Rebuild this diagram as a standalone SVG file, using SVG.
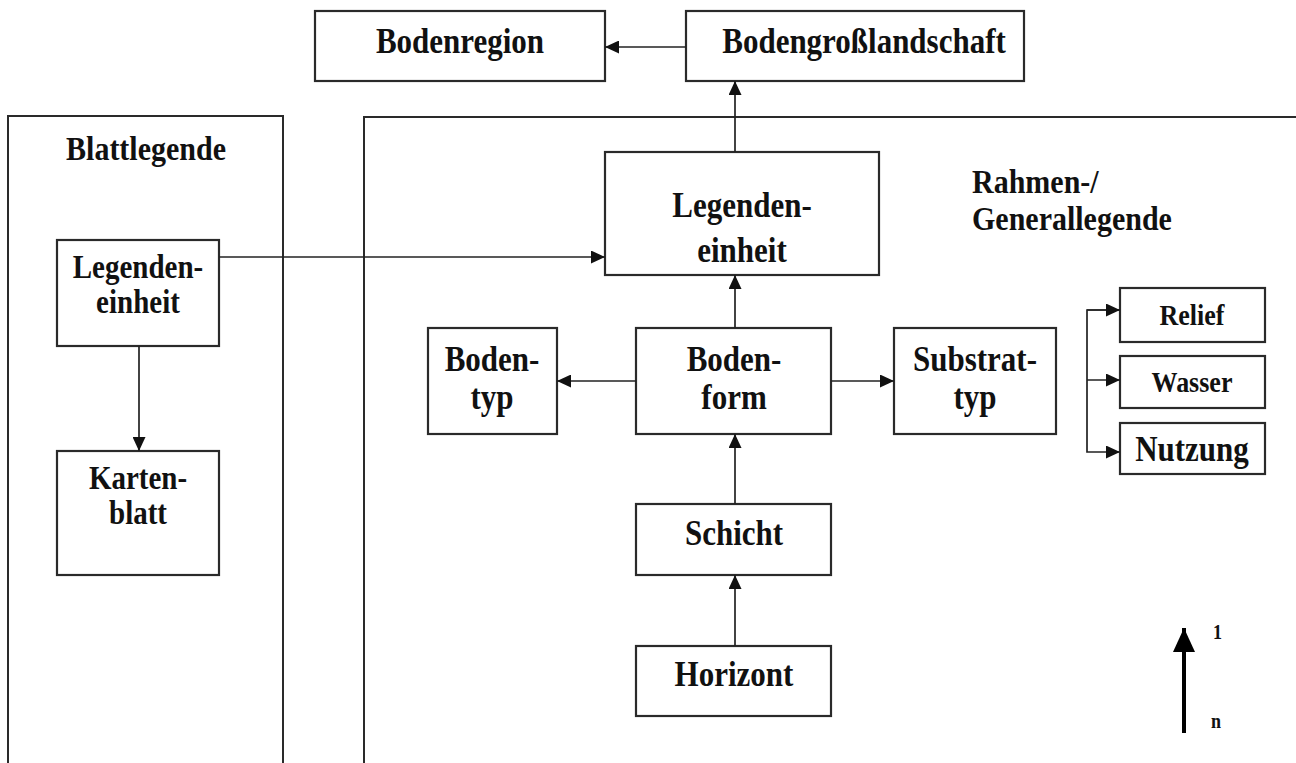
<svg xmlns="http://www.w3.org/2000/svg" width="1296" height="763" viewBox="0 0 1296 763">
<style>
.box{fill:#fff;stroke:#2a2a2a;stroke-width:2.2}
.panel{fill:none;stroke:#2a2a2a;stroke-width:2}
.t{font-family:"Liberation Serif","Times New Roman",serif;font-weight:bold;fill:#111;text-anchor:middle}
.l{text-anchor:start}
.c{fill:none;stroke:#222;stroke-width:1.7}
</style>
<defs>
<marker id="ah" markerUnits="userSpaceOnUse" markerWidth="14" markerHeight="13" refX="14" refY="6.5" orient="auto">
<path d="M0,0 L14,6.5 L0,13 z" fill="#111"/>
</marker>
<marker id="big" markerUnits="userSpaceOnUse" markerWidth="24" markerHeight="22" refX="24" refY="11" orient="auto">
<path d="M0,0 L24,11 L0,22 z" fill="#000"/>
</marker>
</defs>
<rect width="1296" height="763" fill="#fff"/>

<g id="panel-blattlegende">
<path class="panel" d="M8,765 V116 H283 V765"/>
<text class="t" transform="translate(146,160) scale(1,1.13)" font-size="30">Blattlegende</text>
</g>
<g id="panel-rahmen">
<path class="panel" d="M364,765 V117 H1298"/>
<text class="t l" transform="translate(972,193) scale(1,1.13)" font-size="30">Rahmen-/</text>
<text class="t l" transform="translate(972,230) scale(1,1.13)" font-size="30">Generallegende</text>
</g>

<g id="bodenregion">
<rect class="box" x="315" y="11" width="290" height="70"/>
<text class="t" transform="translate(460,53) scale(1,1.13)" font-size="31">Bodenregion</text>
</g>
<g id="bodengrosslandschaft">
<rect class="box" x="686" y="11" width="338" height="70"/>
<text class="t" transform="translate(864,53) scale(1,1.13)" font-size="31">Bodengroßlandschaft</text>
</g>

<g id="legendeneinheit-blatt">
<rect class="box" x="57" y="240" width="162" height="106"/>
<text class="t" transform="translate(138,278) scale(1,1.13)" font-size="29">Legenden-</text>
<text class="t" transform="translate(138,313) scale(1,1.13)" font-size="29">einheit</text>
</g>
<g id="kartenblatt">
<rect class="box" x="57" y="451" width="162" height="124"/>
<text class="t" transform="translate(138,489) scale(1,1.13)" font-size="29">Karten-</text>
<text class="t" transform="translate(138,524) scale(1,1.13)" font-size="29">blatt</text>
</g>

<g id="legendeneinheit">
<rect class="box" x="605" y="152" width="274" height="123"/>
<text class="t" transform="translate(742,217) scale(1,1.13)" font-size="31">Legenden-</text>
<text class="t" transform="translate(742,262) scale(1,1.13)" font-size="31">einheit</text>
</g>

<g id="bodentyp">
<rect class="box" x="428" y="328" width="129" height="106"/>
<text class="t" transform="translate(492,371) scale(1,1.13)" font-size="31">Boden-</text>
<text class="t" transform="translate(492,409) scale(1,1.13)" font-size="31">typ</text>
</g>
<g id="bodenform">
<rect class="box" x="636" y="328" width="195" height="106"/>
<text class="t" transform="translate(734,371) scale(1,1.13)" font-size="31">Boden-</text>
<text class="t" transform="translate(734,409) scale(1,1.13)" font-size="31">form</text>
</g>
<g id="substrattyp">
<rect class="box" x="894" y="328" width="162" height="106"/>
<text class="t" transform="translate(975,371) scale(1,1.13)" font-size="31">Substrat-</text>
<text class="t" transform="translate(975,409) scale(1,1.13)" font-size="31">typ</text>
</g>

<g id="schicht">
<rect class="box" x="636" y="504" width="195" height="71"/>
<text class="t" transform="translate(734,545) scale(1,1.13)" font-size="31">Schicht</text>
</g>
<g id="horizont">
<rect class="box" x="636" y="646" width="195" height="70"/>
<text class="t" transform="translate(734,686) scale(1,1.13)" font-size="31">Horizont</text>
</g>

<g id="relief">
<rect class="box" x="1120" y="288" width="145" height="54"/>
<text class="t" transform="translate(1192,325) scale(1,1.13)" font-size="26">Relief</text>
</g>
<g id="wasser">
<rect class="box" x="1120" y="356" width="145" height="52"/>
<text class="t" transform="translate(1192,392) scale(1,1.13)" font-size="26">Wasser</text>
</g>
<g id="nutzung">
<rect class="box" x="1120" y="423" width="145" height="51"/>
<text class="t" transform="translate(1192,461) scale(1,1.13)" font-size="31">Nutzung</text>
</g>

<g id="legend-arrow">
<line x1="1184" y1="733" x2="1184" y2="628" stroke="#000" stroke-width="4" marker-end="url(#big)"/>
<text class="t l" transform="translate(1213,639) scale(1,1.13)" font-size="18">1</text>
<text class="t l" transform="translate(1211,728) scale(1,1.13)" font-size="18">n</text>
</g>

<g id="connectors">
<line class="c" x1="686" y1="47" x2="605" y2="47" marker-end="url(#ah)"/>
<line class="c" x1="735" y1="152" x2="735" y2="81" marker-end="url(#ah)"/>
<line class="c" x1="219" y1="257" x2="605" y2="257" marker-end="url(#ah)"/>
<line class="c" x1="139" y1="346" x2="139" y2="451" marker-end="url(#ah)"/>
<line class="c" x1="735" y1="328" x2="735" y2="275" marker-end="url(#ah)"/>
<line class="c" x1="636" y1="381" x2="557" y2="381" marker-end="url(#ah)"/>
<line class="c" x1="831" y1="381" x2="894" y2="381" marker-end="url(#ah)"/>
<line class="c" x1="735" y1="504" x2="735" y2="434" marker-end="url(#ah)"/>
<line class="c" x1="735" y1="646" x2="735" y2="575" marker-end="url(#ah)"/>
<path class="c" d="M1120,310 H1087 V452 H1120" marker-end="url(#ah)"/>
<line class="c" x1="1087" y1="310" x2="1120" y2="310" marker-end="url(#ah)"/>
<line class="c" x1="1087" y1="380" x2="1120" y2="380" marker-end="url(#ah)"/>
</g>
</svg>
